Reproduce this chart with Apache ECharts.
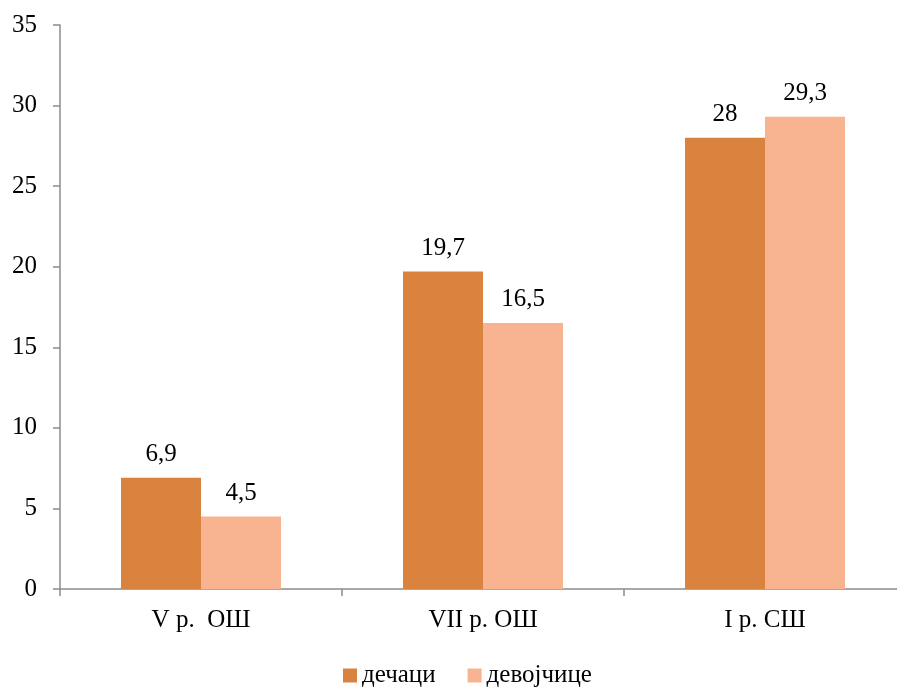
<!DOCTYPE html>
<html>
<head>
<meta charset="utf-8">
<script src="https://cdn.jsdelivr.net/npm/echarts@6/dist/echarts.min.js"></script>
<style>
  html, body { margin: 0; padding: 0; background: #fff; }
  #chart { width: 897px; height: 690px; }
</style>
</head>
<body>
<div id="chart"></div>
<script>
// Grade levels and percentages by group
const categories = ['V р.  ОШ', 'VII р. ОШ', 'I р. СШ'];
const boys = [6.9, 19.7, 28];
const girls = [4.5, 16.5, 29.3];
const seriesNames = ['дечаци', 'девојчице'];

const FONT = '"Liberation Serif", "Times New Roman", serif';
const FONT_SIZE = 25;
const AXIS_COLOR = '#8c8c8c';

const commaLabel = p => String(p.value).replace('.', ',');

const barLabel = {
  show: true, position: 'top', distance: 11,
  fontFamily: FONT, fontSize: FONT_SIZE, color: '#000',
  formatter: commaLabel
};

const chart = echarts.init(document.getElementById('chart'));
chart.setOption({
  animation: false,
  textStyle: { fontFamily: FONT },
  // the last category runs a little past the right edge of the canvas
  grid: { left: 60, width: 846, top: 25, bottom: 101, containLabel: false, outerBoundsMode: 'none' },
  legend: {
    bottom: 2,
    left: 343,
    padding: 0,
    icon: 'rect',
    itemWidth: 14,
    itemHeight: 14,
    itemGap: 32,
    textStyle: { fontFamily: FONT, fontSize: FONT_SIZE, color: '#000' },
    data: seriesNames
  },
  xAxis: {
    type: 'category',
    data: categories,
    axisLine: { lineStyle: { color: AXIS_COLOR, width: 1.5 } },
    axisTick: { show: true, length: 7, lineStyle: { color: AXIS_COLOR, width: 1.5 } },
    axisLabel: { fontFamily: FONT, fontSize: FONT_SIZE, color: '#000', margin: 19 }
  },
  yAxis: {
    type: 'value',
    min: 0,
    max: 35,
    interval: 5,
    splitLine: { show: false },
    axisLine: { show: true, lineStyle: { color: AXIS_COLOR, width: 1.5 } },
    axisTick: { show: true, length: 7, lineStyle: { color: AXIS_COLOR, width: 1.5 } },
    axisLabel: { fontFamily: FONT, fontSize: FONT_SIZE, color: '#000', margin: 23 }
  },
  series: [
    {
      name: seriesNames[0],
      type: 'bar',
      data: boys,
      barWidth: 80,
      barGap: '0%',
      itemStyle: { color: '#DA833F' },
      label: barLabel
    },
    {
      name: seriesNames[1],
      type: 'bar',
      data: girls,
      barWidth: 80,
      barGap: '0%',
      itemStyle: { color: '#F8B490' },
      label: barLabel
    }
  ]
});
</script>
</body>
</html>
